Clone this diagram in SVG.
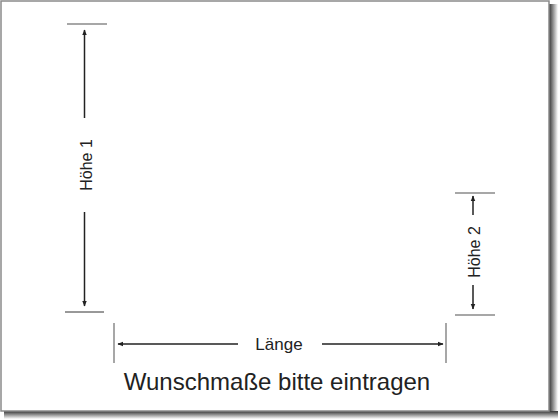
<svg xmlns="http://www.w3.org/2000/svg" width="560" height="420" viewBox="0 0 560 420">
<defs>
<style>
.dim{stroke:#222;stroke-width:1.5;fill:none}
.tick{stroke:#8a8a8a;stroke-width:1.5}
.tickd{stroke:#333;stroke-width:1}
.lbl{font-family:"Liberation Sans",Arial,sans-serif;fill:#222}
</style>
<marker id="ah" viewBox="0 0 10 10" refX="9" refY="5" markerWidth="6" markerHeight="6" orient="auto-start-reverse" markerUnits="userSpaceOnUse">
<path d="M0,1 L10,5 L0,9 Z" fill="#222"/>
</marker>
<linearGradient id="shR" x1="0" y1="0" x2="1" y2="0">
<stop offset="0" stop-color="#333"/>
<stop offset="1" stop-color="#fff"/>
</linearGradient>
<linearGradient id="shB" x1="0" y1="0" x2="0" y2="1">
<stop offset="0" stop-color="#333"/>
<stop offset="1" stop-color="#fff"/>
</linearGradient>
</defs>
<rect width="560" height="420" fill="#fff"/>
<g id="frame">
<rect x="549" y="4" width="9" height="413" fill="url(#shR)"/>
<rect x="4" y="411" width="554" height="8" fill="url(#shB)"/>
<rect x="1" y="1" width="548" height="410" fill="#fff" stroke="#8a8a8a" stroke-width="1.5"/>
</g>
<g id="connectors">
<line class="dim" x1="84.5" y1="30" x2="84.5" y2="118" marker-start="url(#ah)"/>
<line class="dim" x1="84.5" y1="212" x2="84.5" y2="306" marker-end="url(#ah)"/>
<line class="dim" x1="473" y1="196" x2="473" y2="215" marker-start="url(#ah)"/>
<line class="dim" x1="473" y1="285" x2="473" y2="309" marker-end="url(#ah)"/>
<line class="dim" x1="118" y1="344" x2="238" y2="344" marker-start="url(#ah)"/>
<line class="dim" x1="322" y1="344" x2="443" y2="344" marker-end="url(#ah)"/>
</g>
<g id="hoehe1">
<line class="tick" x1="67" y1="24" x2="107" y2="24"/>
<line class="tickd" x1="65" y1="312" x2="104" y2="312"/>
<text class="lbl" font-size="16" text-anchor="middle" transform="translate(91.5,165) rotate(-90)">Höhe 1</text>
</g>
<g id="hoehe2">
<line class="tick" x1="455" y1="193" x2="495" y2="193"/>
<line class="tick" x1="455" y1="315" x2="495" y2="315"/>
<text class="lbl" font-size="16" text-anchor="middle" transform="translate(479.5,252) rotate(-90)">Höhe 2</text>
</g>
<g id="laenge">
<line class="tick" x1="114" y1="323" x2="114" y2="363"/>
<line class="tick" x1="446" y1="323" x2="446" y2="363"/>
<text class="lbl" font-size="17" text-anchor="middle" x="279" y="350">Länge</text>
</g>
<g id="title">
<text class="lbl" font-size="24" text-anchor="middle" x="277" y="390">Wunschmaße bitte eintragen</text>
</g>
</svg>
